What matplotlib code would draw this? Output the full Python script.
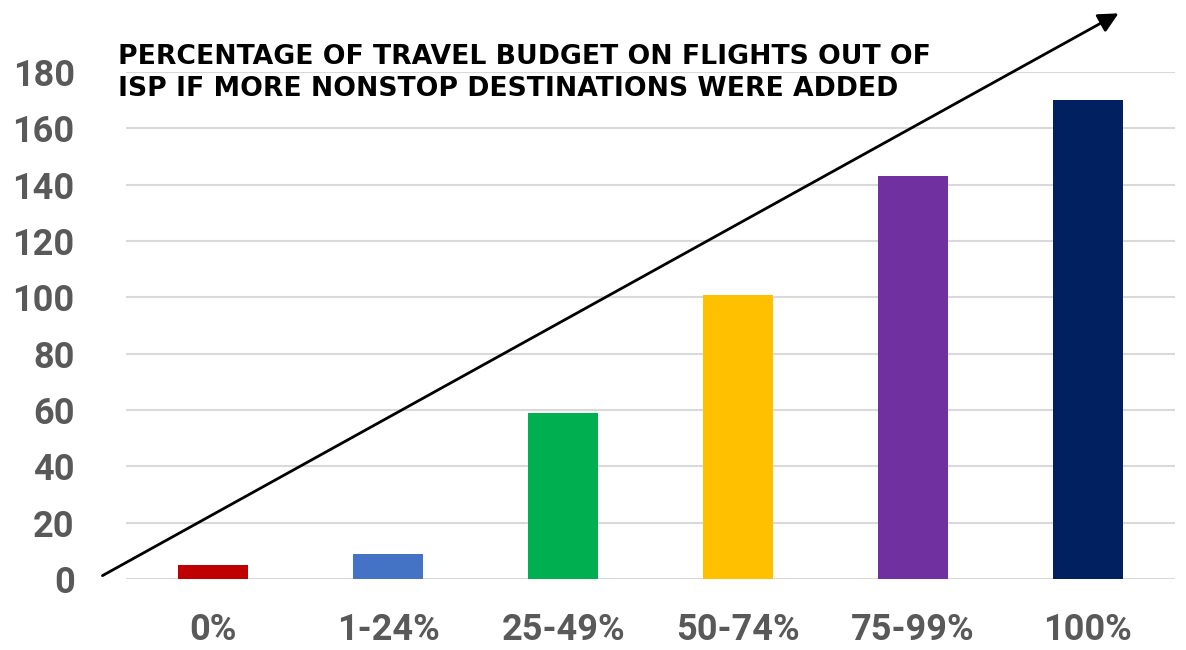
import matplotlib
matplotlib.use("Agg")
import matplotlib.pyplot as plt

categories = ["0%", "1-24%", "25-49%", "50-74%", "75-99%", "100%"]
values = [5, 9, 59, 101, 143, 170]
colors = ["#C00000", "#4472C4", "#00B050", "#FFC000", "#7030A0", "#002060"]
yticks = [0, 20, 40, 60, 80, 100, 120, 140, 160, 180]
title = "PERCENTAGE OF TRAVEL BUDGET ON FLIGHTS OUT OF\nISP IF MORE NONSTOP DESTINATIONS WERE ADDED"

fig = plt.figure(figsize=(11.86, 6.5), dpi=100)
ax = fig.add_axes([126/1186, 1-579/650, (1175-126)/1186, (579-72)/650])
x = range(len(categories))
ax.bar(x, values, width=0.4, color=colors, zorder=3)
ax.set_xlim(-0.5, 5.5)
ax.set_ylim(0, 180)
ax.set_yticks(yticks)
ax.set_xticks(list(x))
ax.set_xticklabels(categories)
ax.yaxis.grid(True, color="#D9D9D9", linewidth=1.5, zorder=0)
for s in ax.spines.values():
    s.set_visible(False)
ax.tick_params(axis="both", length=0, colors="#595959", labelsize=26)
ax.tick_params(axis="y", pad=37)
ax.tick_params(axis="x", pad=24)
for lab in ax.get_xticklabels() + ax.get_yticklabels():
    lab.set_fontweight("bold")
    lab.set_fontfamily("Roboto")
    lab.set_color("#595959")

fig.text(118/1186, 1-44/650, title, ha="left", va="top", fontsize=19.2,
         fontweight="heavy", family="DejaVu Sans", color="black", linespacing=1.3)

fig.patches.append(matplotlib.patches.FancyArrowPatch(
    (100/1186, 1-577/650), (1121/1186, 1-12/650), transform=fig.transFigure,
    arrowstyle="-|>,head_length=12,head_width=6", mutation_scale=1,
    color="black", linewidth=2))

fig.savefig("out.png", dpi=100)
